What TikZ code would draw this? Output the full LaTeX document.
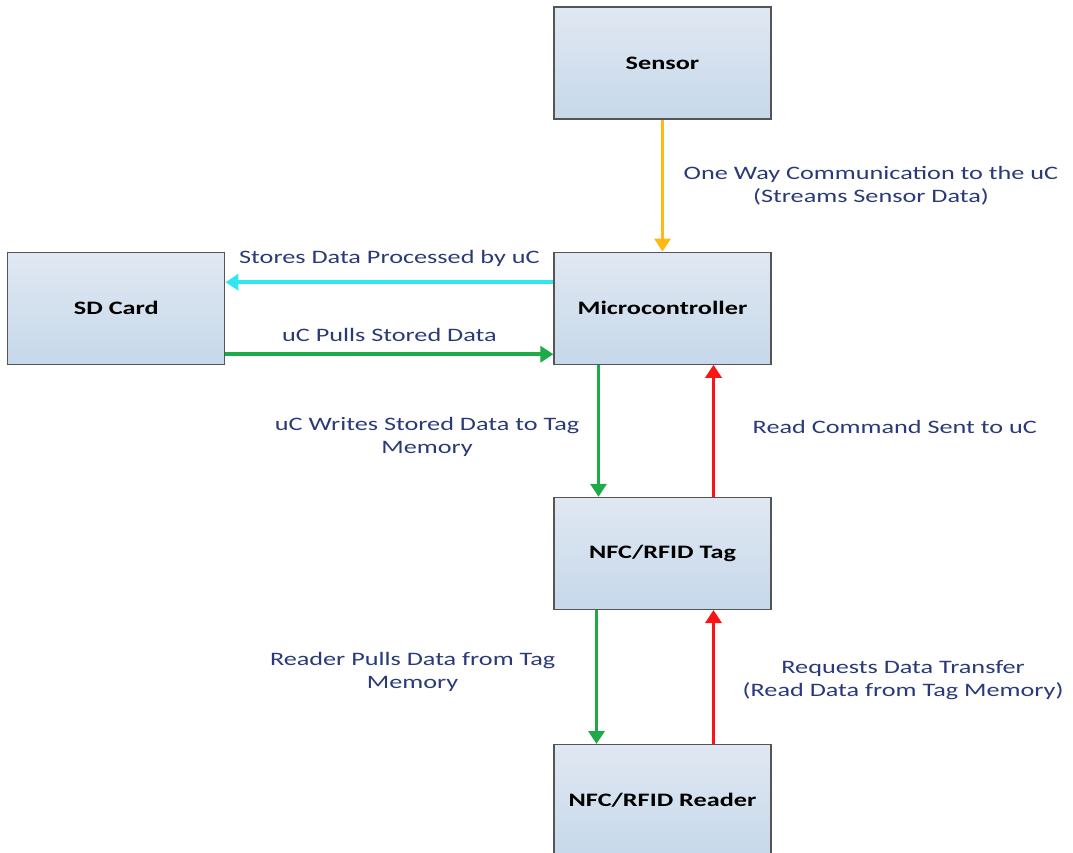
\documentclass[tikz,border=0pt]{standalone}
\usepackage{fontspec}
\setmainfont{Carlito}[FakeStretch=1.38]
\usepackage{xcolor}
\definecolor{boxtop}{RGB}{224,232,242}
\definecolor{boxbottom}{RGB}{198,216,234}
\definecolor{boxline}{RGB}{85,85,85}
\definecolor{labelblue}{RGB}{42,58,120}
\definecolor{sensorgold}{RGB}{255,184,20}
\definecolor{storecyan}{RGB}{50,230,240}
\definecolor{pullgreen}{RGB}{30,170,70}
\definecolor{cmdred}{RGB}{250,20,20}
\usetikzlibrary{arrows.meta,positioning}
\tikzset{
  >={Triangle[length=13pt,width=16pt]},
  block/.style={rectangle,draw=boxline,line width=1.2pt,top color=boxtop,bottom color=boxbottom,
    minimum width=217pt,minimum height=112pt,font=\fontsize{19}{22}\selectfont\bfseries},
  link/.style={->,line width=3.8pt},
  note/.style={font=\fontsize{19}{23}\selectfont,text=labelblue,align=center}
}

\begin{document}
\begin{tikzpicture}[x=1pt,y=-1pt]
  \useasboundingbox (0,0) rectangle (1073,852);

  % Blocks
  \node[block] (sensor) at (662.5,63) {Sensor};
  \node[block,below=132pt of sensor] (uc) {Microcontroller};
  \node[block,left=328pt of uc] (sd) {SD Card};
  \node[block,below=132pt of uc] (tag) {NFC/RFID Tag};
  \node[block,below=134pt of tag] (reader) {NFC/RFID Reader};

  % Sensor to uC
  \draw[link,sensorgold] (sensor.south) -- node[note,right=16pt]{One Way Communication to the uC\\(Streams Sensor Data)} (uc.north);

  % uC <-> SD card
  \draw[link,storecyan] ([yshift=26pt]uc.west) -- node[note,above=10pt]{Stores Data Processed by uC} ([yshift=26pt]sd.east);
  \draw[link,pullgreen] ([yshift=-46pt]sd.east) -- node[note,above=7pt]{uC Pulls Stored Data} ([yshift=-46pt]uc.west);

  % uC <-> tag
  \draw[link,pullgreen] ([xshift=-64pt]uc.south) -- node[note,left=14pt,yshift=-6pt]{uC Writes Stored Data to Tag\\Memory} ([xshift=-64pt]tag.north);
  \draw[link,cmdred] ([xshift=51pt]tag.north) -- node[note,right=34pt,yshift=4pt]{Read Command Sent to uC} ([xshift=51pt]uc.south);

  % tag <-> reader
  \draw[link,pullgreen] ([xshift=-66pt]tag.south) -- node[note,left=36pt,yshift=5pt]{Reader Pulls Data from Tag\\Memory} ([xshift=-66pt]reader.north);
  \draw[link,cmdred] ([xshift=51pt]reader.north) -- node[note,right=24pt,yshift=-3pt]{Requests Data Transfer\\(Read Data from Tag Memory)} ([xshift=51pt]tag.south);
\end{tikzpicture}
\end{document}
